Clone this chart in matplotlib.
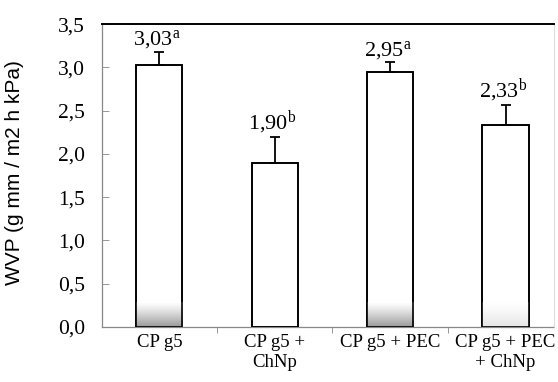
import matplotlib
matplotlib.use('Agg')
import matplotlib.pyplot as plt
from matplotlib.ticker import FuncFormatter, FixedLocator
import numpy as np

categories = ['CP g5', 'CP g5 +\nChNp', 'CP g5 + PEC', 'CP g5 + PEC\n+ ChNp']
wvp = [3.03, 1.90, 2.95, 2.33]
wvp_err = [0.15, 0.29, 0.11, 0.23]
letters = ['a', 'b', 'a', 'b']
# scan shading at the bottom of bars (max darkness)
shade = [0.4, 0.0, 0.4, 0.1]

plt.rcParams['mathtext.fontset'] = 'custom'
plt.rcParams['mathtext.rm'] = 'Liberation Serif'
plt.rcParams['mathtext.it'] = 'Liberation Serif'
serif = 'Liberation Serif'

fig = plt.figure(figsize=(5.58, 3.82), dpi=100)
ax = fig.add_axes([0.1823, 0.144, 0.8106, 0.793])

x = np.arange(len(categories))
w = 0.4
ax.bar(x, wvp, width=w, color='white', edgecolor='black', linewidth=1.2, zorder=2)

# grey gradient at bar bottoms (scan artefact), dark at the bottom
grad = np.linspace(1, 0, 64).reshape(-1, 1)
for xi, s in zip(x, shade):
    if s <= 0:
        continue
    rgba = np.ones((64, 1, 4))
    g = 1 - s * grad ** 1.2
    rgba[..., 0] = g
    rgba[..., 1] = g
    rgba[..., 2] = g
    ax.imshow(rgba, extent=[xi - w / 2, xi + w / 2, 0, 0.28], aspect='auto',
              origin='lower', zorder=2.5, interpolation='bilinear')
ax.bar(x, wvp, width=w, color='none', edgecolor='black', linewidth=1.2, zorder=3)

ax.errorbar(x, wvp, yerr=[np.zeros(len(wvp)), wvp_err], fmt='none', ecolor='black',
            elinewidth=1.3, capsize=3.5, capthick=1.3, zorder=3)

for xi, v, e, l in zip(x, wvp, wvp_err, letters):
    txt = ('%.2f' % v).replace('.', ',') + r'$^{\mathrm{%s}}$' % l
    ax.text(xi - 0.02, v + e + 0.005, txt, ha='center', va='bottom',
            fontsize=16, family=serif)

ax.set_xlim(-0.5, 3.42)
ax.set_ylim(0, 3.5)
ax.set_yticks(np.arange(0, 3.51, 0.5))
ax.yaxis.set_major_formatter(FuncFormatter(lambda v, p: ('%.1f' % v).replace('.', ',')))
ax.tick_params(axis='y', direction='in', length=5, width=0.6, color='#888888',
               labelsize=15.5, pad=12)
for t in ax.get_yticklabels():
    t.set_family(serif)

ax.set_xticks(x)
ax.set_xticklabels(categories, family=serif, fontsize=13.5, linespacing=1.2)
ax.tick_params(axis='x', which='major', length=0, pad=5)
ax.xaxis.set_minor_locator(FixedLocator([0.5, 1.5, 2.5]))
ax.tick_params(axis='x', which='minor', direction='out', length=4, width=0.6,
               color='#888888')

ax.set_ylabel('WVP (g mm / m2 h kPa)', family='Liberation Sans', fontsize=15)
ax.yaxis.set_label_coords(-0.172, 0.51)

ax.spines['top'].set_color('black')
ax.spines['top'].set_linewidth(1.4)
for s in ['left', 'bottom']:
    ax.spines[s].set_color('#888888')
    ax.spines[s].set_linestyle((0, (1, 1)))
    ax.spines[s].set_linewidth(0.9)
ax.spines['right'].set_color('#dddddd')
ax.spines['right'].set_linewidth(0.8)

fig.savefig('out.png', dpi=100)
